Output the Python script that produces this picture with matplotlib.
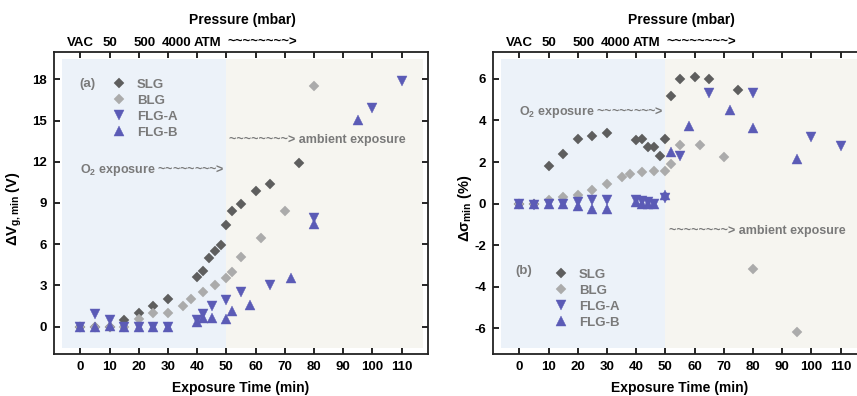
import matplotlib
matplotlib.use("Agg")
import matplotlib.pyplot as plt

plt.rcParams['font.family'] = ['Liberation Sans', 'DejaVu Sans']
plt.rcParams['mathtext.fontset'] = 'custom'
plt.rcParams['mathtext.rm'] = 'Liberation Sans:bold'
plt.rcParams['mathtext.bf'] = 'Liberation Sans:bold'
plt.rcParams['mathtext.it'] = 'Liberation Sans:bold'
plt.rcParams['axes.unicode_minus'] = False

# ---------------- data: panel (a) ----------------
a_slg_t = [0, 5, 10, 15, 20, 25, 30, 40, 42, 44, 46, 48, 50, 52, 55, 60, 65, 75]
a_slg_v = [0, 0, 0, 0.5, 1.0, 1.5, 2.0, 3.6, 4.05, 5.0, 5.5, 5.95, 7.4, 8.45, 8.9, 9.9, 10.4, 11.95]
a_blg_t = [0, 5, 10, 15, 20, 25, 30, 35, 38, 42, 46, 50, 52, 55, 62, 70, 80]
a_blg_v = [0, 0, 0, 0, 0.55, 1.0, 1.0, 1.53, 2.0, 2.55, 3.05, 3.5, 4.0, 5.05, 6.45, 8.4, 17.5]
a_flga_t = [0, 5, 10, 15, 20, 25, 30, 40, 42, 45, 50, 55, 65, 80, 100, 110]
a_flga_v = [0, 0.9, 0.5, 0, 0, 0, 0, 0.5, 0.95, 1.5, 1.95, 2.5, 3.0, 7.9, 15.9, 17.9]
a_flgb_t = [0, 5, 10, 15, 20, 25, 30, 40, 42, 45, 50, 52, 58, 72, 80, 95]
a_flgb_v = [0, 0, 0.05, 0, 0, 0, 0, 0.35, 0.6, 0.6, 0.55, 1.1, 1.55, 3.55, 7.5, 15.05]

# ---------------- data: panel (b) ----------------
b_slg_t = [0, 5, 10, 15, 20, 25, 30, 40, 42, 44, 46, 48, 50, 52, 55, 60, 65, 75]
b_slg_v = [0, 0, 1.83, 2.4, 3.12, 3.24, 3.4, 3.05, 3.1, 2.7, 2.7, 2.3, 3.12, 5.2, 6.0, 6.1, 6.0, 5.48]
b_blg_t = [0, 5, 10, 15, 20, 25, 30, 35, 38, 42, 46, 50, 52, 55, 62, 70, 80, 95]
b_blg_v = [0, 0, 0.15, 0.3, 0.4, 0.65, 0.95, 1.27, 1.43, 1.52, 1.59, 1.59, 1.9, 2.8, 2.8, 2.24, -3.17, -6.19]
b_flga_t = [0, 5, 10, 15, 20, 25, 30, 40, 42, 44, 46, 50, 55, 65, 80, 100, 110]
b_flga_v = [0, -0.05, 0, 0, 0.05, 0.15, 0.15, 0.15, 0.1, 0.05, 0.0, 0.27, 2.28, 5.32, 5.32, 3.19, 2.76]
b_flgb_t = [0, 5, 10, 15, 20, 25, 30, 40, 42, 44, 46, 50, 52, 58, 72, 80, 95]
b_flgb_v = [0, 0, 0, 0, -0.1, -0.25, -0.25, 0.05, 0.0, 0.0, 0.0, 0.43, 2.48, 3.75, 4.52, 3.64, 2.16]

series_names = ['SLG', 'BLG', 'FLG-A', 'FLG-B']
x_ticks = [0, 10, 20, 30, 40, 50, 60, 70, 80, 90, 100, 110]
a_yticks = [0, 3, 6, 9, 12, 15, 18]
b_yticks = [-6, -4, -2, 0, 2, 4, 6]
pressure_labels = ['VAC', '50', '500', '4000', 'ATM']
pressure_pos = [0, 10, 22, 33, 43.5]

C_SLG = '#5e5e5e'
C_BLG = '#ababab'
C_FLG = '#5b5bb6'
C_TXT = '#7a7a7a'
BG_BLUE = '#ecf2f9'
BG_BEIGE = '#f6f5f0'

styles = [dict(marker='D', ms=5.3, color=C_SLG),
          dict(marker='D', ms=5.3, color=C_BLG),
          dict(marker='v', ms=7.4, color=C_FLG),
          dict(marker='^', ms=7.4, color=C_FLG)]

fig = plt.figure(figsize=(8.57, 3.96), dpi=100)
W, H = 857.0, 396.0
axw = 374 / W
axb = 1 - 354 / H
axh = (354 - 52) / H
ax1 = fig.add_axes([54 / W, axb, axw, axh])
ax2 = fig.add_axes([493 / W, axb, axw, axh])


def setup(ax, data, ylim, yticks, ylabel, tag, o2_xy, amb_xy, leg_anchor, tag_xy):
    ax.set_xlim(-9, 119)
    ax.set_ylim(*ylim)
    ax.axvspan(-6.4, 50, ymin=0.02, ymax=0.978, color=BG_BLUE, lw=0, zorder=0)
    ax.axvspan(50, 117.2, ymin=0.02, ymax=0.978, color=BG_BEIGE, lw=0, zorder=0)
    handles = []
    for (t, v), st, name in zip(data, styles, series_names):
        h, = ax.plot(t, v, ls='none', marker=st['marker'], ms=st['ms'],
                     color=st['color'], mec=st['color'], mew=0.3, zorder=3, label=name)
        handles.append(h)
    ax.set_xticks(x_ticks)
    ax.set_yticks(yticks)
    ax.tick_params(direction='in', top=True, right=True, length=4, width=1.2,
                   labelsize=9.5, pad=5)
    for lab in ax.get_xticklabels() + ax.get_yticklabels():
        lab.set_fontweight('bold')
    for s in ax.spines.values():
        s.set_linewidth(1.3)
        s.set_color('#222222')
    ax.set_xlabel('Exposure Time (min)', fontsize=10, fontweight='bold', labelpad=6)
    ax.set_ylabel(ylabel, fontsize=10.5, fontweight='bold')
    # pressure axis labels on top
    for lab, p in zip(pressure_labels, pressure_pos):
        ax.text(p, 1.03, lab, transform=ax.get_xaxis_transform(), ha='center',
                va='center', fontsize=9.5, fontweight='bold')
    ax.text(50.5, 1.03, '~~~~~~~~>', transform=ax.get_xaxis_transform(), ha='left',
            va='center', fontsize=9.5, fontweight='bold')
    ax.text(55.5, 1.105, 'Pressure (mbar)', transform=ax.get_xaxis_transform(),
            ha='center', va='center', fontsize=10, fontweight='bold')
    ax.text(o2_xy[0], o2_xy[1], r'O$_{2}$ exposure ~~~~~~~~>', ha='right', va='center',
            fontsize=9, fontweight='bold', color=C_TXT)
    ax.text(amb_xy[0], amb_xy[1], '~~~~~~~~> ambient exposure', ha='left', va='center',
            fontsize=9, fontweight='bold', color=C_TXT)
    ax.text(tag_xy[0], tag_xy[1], tag, ha='center', va='center', fontsize=9.5,
            fontweight='bold', color=C_TXT)
    leg = ax.legend(handles=handles, loc='upper left', bbox_to_anchor=leg_anchor,
                    frameon=False, handlelength=1.0, handletextpad=0.9,
                    labelspacing=0.28, borderpad=0, borderaxespad=0,
                    prop={'weight': 'bold', 'size': 9.5})
    for txt in leg.get_texts():
        txt.set_color(C_TXT)


setup(ax1, [(a_slg_t, a_slg_v), (a_blg_t, a_blg_v), (a_flga_t, a_flga_v), (a_flgb_t, a_flgb_v)],
      (-2, 20), a_yticks, r'ΔV$_{\mathregular{g,min}}$ (V)', '(a)',
      (49.5, 11.44), (51.0, 13.56), (0.155, 0.912), (2.4, 17.7))
setup(ax2, [(b_slg_t, b_slg_v), (b_blg_t, b_blg_v), (b_flga_t, b_flga_v), (b_flgb_t, b_flgb_v)],
      (-7.25, 7.3), b_yticks, r'Δσ$_{\mathregular{min}}$ (%)', '(b)',
      (49.3, 4.42), (51.1, -1.3), (0.163, 0.283), (1.6, -3.27))

ax1.yaxis.set_label_coords(-0.08, 0.483)
ax2.yaxis.set_label_coords(-0.05, 0.483)

fig.savefig('out.png', dpi=100)
